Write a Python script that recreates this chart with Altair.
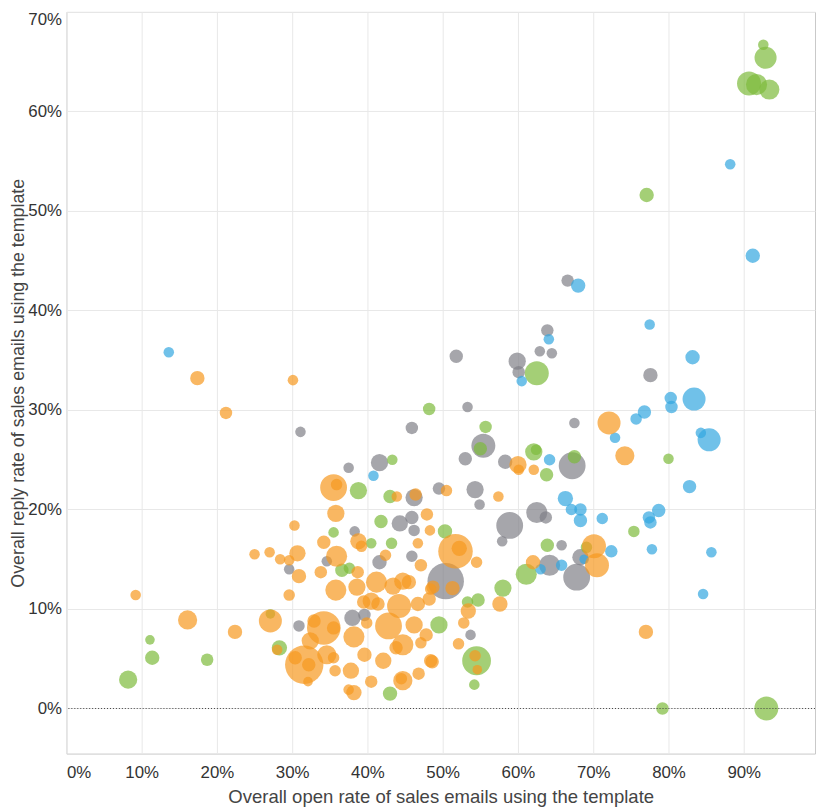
import altair as alt
import pandas as pd

# ---------------- data ----------------
group_names = ["Group D", "Group C", "Group B", "Group A"]
group_colors = ["#808087", "#7DBB3C", "#33A6E0", "#F7991F"]

# Gray group
gray_open = [66.6, 77.6, 63.9, 62.9, 64.5, 51.8, 59.9, 60.1, 53.3, 67.5,
             45.9, 55.4, 53.0, 58.3, 67.2, 41.6, 37.5, 31.1, 46.2, 49.5,
             54.3, 54.9, 44.3, 45.9, 46.2, 58.9, 57.9, 62.5, 63.7, 38.3,
             45.9, 41.6, 34.6, 29.6, 50.4, 64.2, 68.3, 67.8, 65.8, 53.7,
             30.9, 38.0, 39.6]
gray_reply = [43.0, 33.5, 38.0, 35.9, 35.7, 35.4, 34.9, 33.8, 30.3, 28.7,
              28.2, 26.4, 25.1, 24.8, 24.4, 24.7, 24.2, 27.8, 21.2, 22.1,
              22.0, 20.5, 18.6, 19.2, 17.9, 18.4, 16.8, 19.7, 19.2, 17.8,
              15.3, 14.7, 14.8, 14.0, 12.8, 14.4, 15.2, 13.2, 16.4, 7.4,
              8.3, 9.1, 9.4]
gray_emails = [169, 225, 169, 121, 121, 196, 324, 169, 121, 121,
               169, 625, 196, 225, 784, 324, 121, 121, 324, 169,
               324, 121, 289, 196, 144, 784, 121, 484, 169, 121,
               144, 225, 121, 121, 1444, 484, 289, 784, 121, 121,
               144, 289, 169]

# Green group
green_open = [92.6, 92.9, 90.7, 91.7, 93.4, 77.1, 80.0, 62.1, 62.4, 63.8,
              67.5, 62.5, 48.2, 55.7, 55.0, 43.3, 38.8, 43.0, 41.8, 35.5,
              40.5, 43.2, 50.3, 36.6, 37.6, 75.4, 63.9, 69.1, 61.1, 58.0,
              53.3, 54.7, 49.5, 54.5, 54.2, 43.0, 27.1, 28.3, 11.1, 11.4,
              18.7, 8.2, 79.2, 93.0]
green_reply = [66.7, 65.4, 62.8, 62.7, 62.2, 51.6, 25.1, 25.8, 26.0, 23.5,
               25.3, 33.7, 30.1, 28.3, 26.1, 25.0, 21.9, 21.3, 18.8, 17.7,
               16.6, 16.6, 17.8, 13.9, 14.1, 17.8, 16.4, 16.2, 13.5, 12.1,
               10.7, 10.9, 8.4, 4.8, 2.4, 1.5, 9.5, 6.1, 6.9, 5.1,
               4.9, 2.9, 0.0, 0.0]
green_emails = [121, 529, 625, 484, 441, 225, 121, 324, 121, 196,
                196, 625, 169, 169, 196, 121, 324, 196, 196, 121,
                121, 144, 225, 196, 144, 144, 196, 144, 484, 324,
                144, 196, 324, 900, 121, 225, 100, 256, 100, 225,
                169, 361, 169, 625]

# Blue group
blue_open = [13.6, 68.0, 88.2, 91.2, 77.5, 83.2, 80.3, 83.4, 80.4, 76.8,
             75.7, 84.3, 85.4, 72.9, 82.8, 64.2, 66.3, 67.1, 68.3, 68.3,
             71.2, 77.4, 78.7, 77.6, 77.8, 85.7, 84.6, 72.4, 68.8, 65.8,
             63.0, 64.1, 60.5, 40.8]
blue_reply = [35.8, 42.5, 54.7, 45.5, 38.6, 35.3, 31.2, 31.1, 30.3, 29.8,
              29.1, 27.7, 27.0, 27.2, 22.3, 25.0, 21.1, 20.0, 20.0, 18.9,
              19.1, 19.2, 19.9, 18.7, 16.0, 15.7, 11.5, 15.8, 15.0, 14.4,
              14.0, 37.1, 32.9, 23.4]
blue_emails = [121, 225, 121, 225, 121, 225, 169, 576, 169, 196,
               144, 121, 576, 121, 196, 144, 256, 144, 169, 196,
               144, 169, 196, 169, 121, 121, 121, 169, 100, 144,
               121, 121, 121, 121]

# Orange group
orange_open = [9.2, 16.1, 22.4, 17.4, 21.2, 30.1, 30.3, 25.0, 27.0, 28.4,
               29.6, 30.7, 30.9, 29.6, 27.1, 28.0, 35.5, 35.9, 35.8, 34.2,
               38.8, 39.2, 43.9, 46.4, 50.5, 57.4, 47.9, 48.3, 60.0, 60.1,
               62.1, 72.1, 74.2, 70.1, 70.5, 62.0, 77.0, 51.7, 52.2, 54.5,
               47.1, 46.7, 42.4, 35.9, 33.8, 38.7, 35.8, 48.7, 51.3, 57.6,
               53.4, 52.8, 52.1, 54.3, 54.6, 48.6, 46.8, 44.7, 44.5, 40.5,
               38.2, 37.5, 35.7, 37.8, 39.6, 42.1, 43.8, 48.4, 32.1, 31.6,
               30.4, 32.2, 34.6, 35.5, 34.2, 32.9, 35.5, 32.4, 38.2, 39.9,
               38.6, 41.2, 40.5, 43.4, 44.7, 45.5, 44.2, 46.7, 42.8, 41.4,
               39.5, 44.7, 46.2, 47.8, 48.2, 48.4, 47.1]
orange_reply = [11.4, 8.9, 7.7, 33.2, 29.7, 33.0, 18.4, 15.5, 15.7, 15.0,
                14.9, 15.6, 13.3, 11.4, 8.8, 5.9, 22.2, 22.5, 19.6, 16.7,
                16.8, 16.3, 21.3, 21.5, 21.9, 21.3, 19.5, 17.9, 24.5, 24.0,
                24.0, 28.7, 25.4, 16.3, 14.4, 14.7, 7.7, 15.8, 16.1, 14.7,
                14.4, 16.6, 15.4, 15.3, 13.7, 13.7, 11.9, 12.2, 12.1, 10.5,
                9.8, 8.6, 6.5, 5.3, 3.9, 4.7, 3.5, 2.8, 3.0, 2.7,
                1.6, 1.9, 3.8, 3.8, 5.4, 4.8, 6.1, 4.8, 2.7, 4.4,
                5.1, 4.4, 5.4, 5.1, 8.1, 8.8, 8.1, 6.8, 7.2, 8.6,
                12.2, 12.7, 10.8, 12.3, 12.8, 12.7, 10.3, 10.5, 8.3, 10.5,
                10.7, 6.4, 8.4, 7.4, 11.0, 12.0, 6.6]
orange_emails = [121, 400, 225, 225, 169, 121, 121, 121, 121, 121,
                 121, 289, 225, 144, 576, 121, 784, 144, 324, 196,
                 289, 144, 121, 169, 144, 121, 169, 121, 324, 121,
                 121, 576, 400, 625, 625, 225, 225, 1296, 256, 144,
                 169, 121, 144, 484, 169, 169, 484, 196, 225, 256,
                 256, 144, 144, 144, 100, 196, 169, 400, 144, 169,
                 256, 121, 144, 289, 225, 289, 196, 196, 100, 1600,
                 196, 196, 400, 144, 1225, 196, 196, 324, 484, 144,
                 324, 484, 324, 324, 324, 225, 625, 225, 784, 196,
                 196, 484, 324, 196, 196, 144, 144]

x_ticks = [0, 0.1, 0.2, 0.3, 0.4, 0.5, 0.6, 0.7, 0.8, 0.9]
y_ticks = [0, 0.1, 0.2, 0.3, 0.4, 0.5, 0.6, 0.7]

# ---------------- table ----------------
frames = []
for name, o, r, e in zip(group_names,
                         [gray_open, green_open, blue_open, orange_open],
                         [gray_reply, green_reply, blue_reply, orange_reply],
                         [gray_emails, green_emails, blue_emails, orange_emails]):
    frames.append(pd.DataFrame({"group": name,
                                "open": [v / 100 for v in o],
                                "reply": [v / 100 for v in r],
                                "emails": e}))
df = pd.concat(frames, ignore_index=True)
df["seq"] = range(len(df))

FONT = "Liberation Sans"

x_enc = alt.X("open:Q",
              title="Overall open rate of sales emails using the template",
              scale=alt.Scale(domain=[0, 0.9947], nice=False, zero=False),
              axis=alt.Axis(format=".0%", values=x_ticks, labelFlush=True,
                            ticks=False, domain=False, labelPadding=11,
                            titlePadding=7, titleFontSize=18.7))
y_enc = alt.Y("reply:Q",
              title="Overall reply rate of sales emails using the template",
              scale=alt.Scale(domain=[-0.0453, 0.70], nice=False, zero=False),
              axis=alt.Axis(format=".0%", values=y_ticks, labelFlush=True,
                            ticks=False, domain=False, labelPadding=5,
                            titlePadding=0, titleFontSize=18))

points = alt.Chart(df).mark_circle(opacity=0.7).encode(
    x=x_enc,
    y=y_enc,
    size=alt.Size("emails:Q", scale=alt.Scale(domain=[0, 1600], range=[0, 1500]),
                  legend=None),
    color=alt.Color("group:N", scale=alt.Scale(domain=group_names, range=group_colors),
                    legend=None),
    order=alt.Order("seq:Q"),
)

zero_line = alt.Chart(pd.DataFrame({"reply": [0.0]})).mark_rule(
    color="#444444", strokeDash=[1, 2], strokeWidth=1
).encode(y=alt.Y("reply:Q"))

chart = alt.layer(points, zero_line).properties(
    width=756,
    height=749,
    autosize=alt.AutoSizeParams(type="none"),
    padding={"left": 59, "top": 0, "right": 1, "bottom": 54},
).configure_view(
    stroke="#c8c8c8", strokeWidth=1
).configure_axis(
    grid=True,
    gridColor="#e8e8e8",
    gridWidth=1,
    labelFont=FONT,
    labelFontSize=17,
    labelColor="#333333",
    titleFont=FONT,
    titleFontWeight="normal",
    titleColor="#444444",
)

chart.save("out.html", embed_options={"renderer": "svg", "actions": False})
